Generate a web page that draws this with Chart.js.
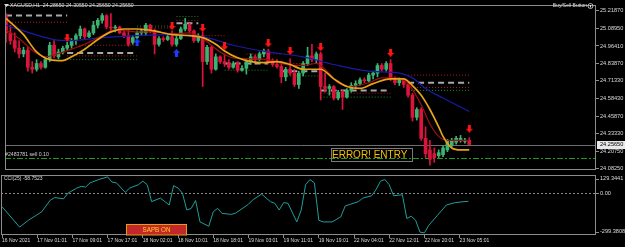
<!DOCTYPE html>
<html>
<head>
<meta charset="utf-8">
<title>XAGUSD,H1</title>
<script src="https://cdn.jsdelivr.net/npm/chart.js"></script>
<style>
    html, body { margin: 0; padding: 0; background: #000; }
    body { width: 625px; height: 247px; position: relative; overflow: hidden; }
    #priceChart { position: absolute; left: 0; top: 0; }
    #cciChart { position: absolute; left: 0; top: 174px; }
</style>
</head>
<body>
<canvas id="priceChart" width="625" height="175"></canvas>
<canvas id="cciChart" width="625" height="73"></canvas>

<script>
// --- data (H1 bars, index 0 = first bar on screen) ---
const opens = [25.182,25.058,25.003,24.948,24.907,24.934,24.811,24.797,24.838,24.811,
    24.866,24.969,24.886,24.921,24.948,24.969,25.003,25.038,25.086,25.031,
    25.058,25.113,25.148,25.182,25.100,25.093,25.100,25.058,25.038,24.990,
    25.024,25.058,25.058,25.113,25.072,24.976,25.017,25.010,25.031,24.976,
    25.017,25.086,25.120,25.072,25.003,25.038,24.852,24.955,24.797,24.886,
    24.852,24.838,24.811,24.838,24.790,24.804,24.852,24.886,24.866,24.907,
    24.928,24.852,24.831,24.817,24.742,24.797,24.769,24.687,24.769,24.838,
    24.893,24.866,24.907,24.673,24.659,24.673,24.590,24.632,24.597,24.645,
    24.680,24.694,24.721,24.714,24.755,24.769,24.824,24.797,24.838,24.728,
    24.700,24.721,24.687,24.611,24.452,24.508,24.301,24.218,24.191,24.177,
    24.184,24.218,24.253,24.273,24.287,24.280,24.2865];
const highs = [25.196,25.113,25.058,25.003,24.955,24.955,24.852,24.866,24.852,24.879,
    24.990,25.003,24.941,24.962,24.990,25.017,25.052,25.107,25.093,25.072,
    25.141,25.162,25.196,25.189,25.196,25.113,25.107,25.072,25.079,25.038,
    25.072,25.086,25.127,25.120,25.086,25.031,25.031,25.045,25.072,25.038,
    25.100,25.162,25.127,25.079,25.052,25.065,24.969,24.962,24.907,24.893,
    24.907,24.866,24.852,24.852,24.824,24.866,24.907,24.900,24.921,24.941,
    24.941,24.872,24.866,24.838,24.811,24.872,24.797,24.783,24.852,24.955,
    24.976,24.921,24.921,24.769,24.687,24.680,24.645,24.645,24.659,24.700,
    24.714,24.735,24.735,24.769,24.783,24.838,24.838,24.852,24.866,24.742,
    24.735,24.728,24.700,24.625,24.521,24.521,24.384,24.287,24.232,24.218,
    24.246,24.294,24.301,24.315,24.322,24.301,24.3055];
const lows = [24.990,24.976,24.921,24.879,24.886,24.783,24.769,24.783,24.797,24.804,
    24.852,24.879,24.872,24.907,24.934,24.948,24.976,25.017,25.017,25.024,
    25.045,25.093,25.127,25.086,25.072,25.065,25.052,25.024,24.962,24.976,
    25.017,25.045,25.038,25.058,24.907,24.962,24.996,25.003,24.962,24.962,
    25.010,25.072,25.058,24.990,24.990,24.673,24.831,24.769,24.790,24.838,
    24.817,24.797,24.804,24.776,24.783,24.762,24.831,24.852,24.859,24.886,
    24.838,24.817,24.804,24.700,24.714,24.755,24.673,24.659,24.749,24.824,
    24.852,24.838,24.576,24.632,24.611,24.576,24.576,24.508,24.590,24.632,
    24.659,24.680,24.700,24.707,24.728,24.742,24.783,24.783,24.714,24.687,
    24.680,24.666,24.597,24.425,24.432,24.287,24.163,24.108,24.129,24.163,
    24.170,24.205,24.239,24.260,24.273,24.267,24.2565];
const closes = [25.058,25.003,24.948,24.907,24.934,24.811,24.797,24.838,24.811,24.866,
    24.969,24.893,24.921,24.948,24.969,25.003,25.038,25.086,25.031,25.058,
    25.113,25.148,25.182,25.100,25.093,25.100,25.058,25.038,24.976,25.024,
    25.058,25.072,25.113,25.072,24.976,25.017,25.010,25.031,24.976,25.017,
    25.086,25.120,25.072,25.003,25.038,24.852,24.955,24.797,24.886,24.852,
    24.838,24.811,24.838,24.790,24.804,24.852,24.886,24.866,24.907,24.928,
    24.852,24.831,24.817,24.742,24.797,24.769,24.687,24.769,24.838,24.893,
    24.866,24.907,24.673,24.659,24.673,24.590,24.632,24.597,24.645,24.680,
    24.694,24.721,24.714,24.755,24.769,24.824,24.797,24.838,24.728,24.700,
    24.721,24.687,24.611,24.452,24.508,24.301,24.191,24.150,24.163,24.198,
    24.232,24.280,24.287,24.301,24.301,24.287,24.2565];

// moving averages (sampled bar, value)
const orangeBars = [0,4,7,10,13,15,18,21,24,27,30,34,38,42,45,48,50,53,56,59,62,65,68,72,75,78,81,84,88,91,93,95,96,97,99,100,102,104,106];
const orangeVals = [25.162,25.045,24.921,24.866,24.859,24.886,24.941,25.010,25.065,25.086,
    25.086,25.072,25.045,25.038,25.024,24.976,24.928,24.879,24.852,24.845,
    24.852,24.831,24.797,24.797,24.728,24.673,24.659,24.694,24.728,24.728,
    24.680,24.611,24.563,24.508,24.384,24.315,24.232,24.218,24.218];
const redMaBars = [0,3,6,9,11,15,18,22,25,30,34,38,42,45,49,52,56,60,64,68,71,73,76,79,83,86,89,92,95,97,99,101,106];
const redMaVals = [25.079,25.017,24.934,24.886,24.900,24.941,24.976,25.038,25.079,25.065,
    25.065,25.052,25.058,25.017,24.921,24.879,24.872,24.866,24.831,24.824,
    24.838,24.797,24.700,24.673,24.700,24.735,24.735,24.694,24.542,24.404,
    24.315,24.287,24.287];
const blueBars = [0,4,11,15,22,30,38,45,52,60,68,75,83,90,93,96,100,106];
const blueVals = [25.113,25.072,25.010,25.003,25.024,25.038,25.045,25.031,24.969,24.921,
    24.886,24.831,24.783,24.769,24.735,24.659,24.590,24.494];

// signal arrows
const sellArrowBars = [14,38,45,50,60,65,72,88,106];
const sellArrowPrices = [25.024,25.107,25.093,24.962,24.983,24.928,24.955,24.914,24.370];
const buyArrowBars = [30,39];
const buyArrowPrices = [24.990,24.914];

// level segments [fromBar, toBar, price]
const grayLevels = [[0,14,25.182],[14,30,24.914],[39,44,25.127],[50,60,24.838],[63,72,24.783],[72,88,24.645],[92,106,24.700]];
const redLevels = [[0,14,25.134],[14,30,24.969],[14,30,24.893],[30,38,25.093],[39,44,25.148],[45,50,25.038],
    [55,63,24.907],[63,72,24.838],[72,88,24.625],[92,106,24.755],[92,106,24.666]];
const greenLevels = [[14,30,24.866],[30,38,25.107],[39,44,25.175],[50,60,24.790],[63,72,24.749],[72,88,24.597],[92,106,24.645]];

const bidPrice = 24.2565;
const orderPrice = 24.157;
const orderLabel = '#2483781 sell 0.10';
const errorText = 'ERROR! ENTRY';

// CCI(25)
const cciBars = [0,4,6,9,11,12,14,15,17,18,19,20,22,24,25,26,28,29,31,32,
    33,34,36,38,39,40,41,42,43,44,45,47,48,49,50,52,53,56,57,59,
    61,62,63,64,65,67,68,69,70,71,72,73,75,77,78,81,82,84,85,86,
    87,88,89,91,92,93,94,95,96,97,99,101,103,105,106];
const cciValues = [-97,-243,-194,-134,-49,-32,-41,0,36,48,
    43,73,97,116,79,73,5,36,60,85,
    60,-61,-36,-85,53,36,0,-121,-109,-53,
    -206,-237,-134,-109,-145,-152,-145,-80,-48,-7,
    -61,-73,-121,-68,-73,-206,-121,60,97,73,
    -194,-206,-206,-170,-92,-61,-36,-19,24,85,
    97,60,-19,-12,-182,-165,-194,-279,-284,-230,
    -158,-85,-68,-61,-58.7523];

// axes
const priceTicks = [25.2187,25.0895,24.9641,24.8387,24.7133,24.5843,24.4587,24.3333,24.2075,24.0825];
const cciTickValues = [129.3441, 0, -299.3808];
const cciTickLabels = ['129.3441', '0.00', '-299.3808'];
const timeTickBars = [0,8,16,24,32,40,48,56,64,72,80,88,96,104];
const timeLabels = ['16 Nov 2021','17 Nov 01:01','17 Nov 09:01','17 Nov 17:01','18 Nov 02:01','18 Nov 10:01','18 Nov 18:01',
    '19 Nov 03:01','19 Nov 11:01','19 Nov 19:01','22 Nov 04:01','22 Nov 12:01','22 Nov 20:01','23 Nov 05:01'];

const X_MIN = -0.23, X_MAX = 135;
const PRICE_MIN = 24.0737, PRICE_MAX = 25.2581;
const CCI_MIN = -299.3808, CCI_MAX = 129.3441;

const UP = '#3cb371', DOWN = '#dc143c';
const FRAME = '#8c8c8c';
const TEXT = '#dcdcdc';

Chart.defaults.font.family = '"Liberation Sans", Arial, sans-serif';
Chart.defaults.color = TEXT;

function label(ctx, s, x, y, size, color, align) {
    ctx.font = size + 'px "Liberation Sans", Arial, sans-serif';
    ctx.fillStyle = color;
    ctx.textAlign = align || 'left';
    ctx.textBaseline = 'middle';
    ctx.fillText(s, x, y);
}

function arrowImage(color, down) {
    const c = document.createElement('canvas');
    c.width = 7; c.height = 8;
    const g = c.getContext('2d');
    g.fillStyle = color;
    g.beginPath();
    if (down) {
        g.moveTo(2, 0); g.lineTo(5, 0); g.lineTo(5, 4); g.lineTo(7, 4);
        g.lineTo(3.5, 8); g.lineTo(0, 4); g.lineTo(2, 4);
    } else {
        g.moveTo(2, 8); g.lineTo(5, 8); g.lineTo(5, 4); g.lineTo(7, 4);
        g.lineTo(3.5, 0); g.lineTo(0, 4); g.lineTo(2, 4);
    }
    g.closePath();
    g.fill();
    return c;
}

const pts = (xs, ys) => xs.map((x, k) => ({ x: x, y: ys[k] }));
const barIdx = opens.map((_, i) => i);
const candleColors = barIdx.map(i => closes[i] >= opens[i] ? UP : DOWN);

function levelSets(list, color, width, dash) {
    return list.map(l => ({
        type: 'line',
        data: [{ x: l[0], y: l[2] }, { x: l[1], y: l[2] }],
        borderColor: color, borderWidth: width, borderDash: dash,
        pointRadius: 0, order: 6
    }));
}

const framePlugin = {
    id: 'frame',
    beforeDraw(chart) {
        const { ctx } = chart;
        ctx.save();
        ctx.fillStyle = '#000';
        ctx.fillRect(0, 0, chart.width, chart.height);
        ctx.restore();
    },
    afterDraw(chart) {
        const { ctx, chartArea: a } = chart;
        ctx.save();
        ctx.strokeStyle = FRAME;
        ctx.lineWidth = 1;
        ctx.strokeRect(a.left + 0.5, a.top + 0.5, a.right - a.left - 1, a.bottom - a.top - 1);
        ctx.restore();
    }
};

const priceOverlay = {
    id: 'priceOverlay',
    beforeDatasetsDraw(chart) {
        const { ctx, chartArea: a, scales: { y } } = chart;
        ctx.save();
        ctx.lineWidth = 1;
        const yb = Math.round(y.getPixelForValue(bidPrice)) + 0.5;
        ctx.strokeStyle = '#6e6e6e';
        ctx.beginPath(); ctx.moveTo(a.left, yb); ctx.lineTo(a.right, yb); ctx.stroke();
        const yo = Math.round(y.getPixelForValue(orderPrice)) + 0.5;
        ctx.strokeStyle = '#1e9e1e';
        ctx.setLineDash([6, 2, 2, 2]);
        ctx.beginPath(); ctx.moveTo(a.left, yo); ctx.lineTo(a.right, yo); ctx.stroke();
        ctx.restore();
    },
    afterDraw(chart) {
        const { ctx, scales: { y } } = chart;
        const last = opens.length - 1;
        ctx.save();
        // header
        ctx.fillStyle = TEXT;
        ctx.beginPath(); ctx.moveTo(4, 4); ctx.lineTo(9, 4); ctx.lineTo(6.5, 7); ctx.closePath(); ctx.fill();
        const head = 'XAGUSD,H1  ' + [opens[last], highs[last], lows[last], closes[last]].map(v => v.toFixed(5)).join(' ');
        label(ctx, head, 10, 6, 5.2, TEXT, 'left');
        label(ctx, 'Buy/Sell Button', 587, 6, 5, TEXT, 'right');
        ctx.strokeStyle = TEXT; ctx.lineWidth = 0.8;
        ctx.beginPath(); ctx.arc(590.5, 6, 2.5, 0, Math.PI * 2); ctx.stroke();
        ctx.fillRect(590, 5, 1, 2.5);
        // order label
        const yo = y.getPixelForValue(orderPrice);
        label(ctx, orderLabel, 5, yo - 3.5, 5.2, '#cfcfcf', 'left');
        // error box
        ctx.strokeStyle = '#7a7a7a'; ctx.lineWidth = 1;
        ctx.strokeRect(331.5, 148.5, 81, 13);
        label(ctx, errorText, 332, 155.5, 10, '#f2c200', 'left');
        // bid price tag on the axis
        const yb = y.getPixelForValue(bidPrice);
        ctx.fillStyle = '#e8e8e8';
        ctx.fillRect(597, Math.round(yb) - 4, 28, 8);
        label(ctx, bidPrice.toFixed(5), 600, yb, 5.6, '#000', 'left');
        ctx.restore();
    }
};

const cciOverlay = {
    id: 'cciOverlay',
    beforeDatasetsDraw(chart) {
        const { ctx, chartArea: a, scales: { y } } = chart;
        ctx.save();
        const y0 = Math.round(y.getPixelForValue(0)) + 0.5;
        ctx.strokeStyle = '#8a8a8a'; ctx.lineWidth = 1;
        ctx.setLineDash([2, 2]);
        ctx.beginPath(); ctx.moveTo(a.left, y0); ctx.lineTo(a.right, y0); ctx.stroke();
        ctx.restore();
    },
    afterDraw(chart) {
        const { ctx, chartArea: a, scales: { y } } = chart;
        ctx.save();
        label(ctx, 'CCI(25) ' + cciValues[cciValues.length - 1].toFixed(4), 4, a.top + 4, 5, TEXT, 'left');
        cciTickValues.forEach((v, k) => {
            const py = Math.min(Math.max(y.getPixelForValue(v), a.top + 3.5), a.bottom - 3.5);
            ctx.fillStyle = FRAME;
            ctx.fillRect(a.right, Math.round(py), 3, 1);
            label(ctx, cciTickLabels[k], a.right + 4, py, 5.6, TEXT, 'left');
        });
        // SAPB button
        ctx.fillStyle = '#c4262a';
        ctx.fillRect(126, 50, 61, 11);
        ctx.strokeStyle = '#d8a21c'; ctx.lineWidth = 1;
        ctx.strokeRect(126.5, 50.5, 60, 10.5);
        label(ctx, 'SAPB ON', 156.5, 56, 6.3, '#ffd21a', 'center');
        ctx.restore();
    }
};

const sellArrow = arrowImage('#ff1414', true);
const buyArrow = arrowImage('#1e3cff', false);

new Chart(document.getElementById('priceChart'), {
    type: 'bar',
    data: {
        datasets: [
            { type: 'line', data: pts(sellArrowBars, sellArrowPrices), showLine: false,
              pointStyle: sellArrow, pointRadius: 4, order: 1 },
            { type: 'line', data: pts(buyArrowBars, buyArrowPrices), showLine: false,
              pointStyle: buyArrow, pointRadius: 4, order: 1 },
            { type: 'line', data: pts(orangeBars, orangeVals), borderColor: '#e8a317', borderWidth: 1.7,
              cubicInterpolationMode: 'monotone', pointRadius: 0, order: 2 },
            { type: 'line', data: pts(redMaBars, redMaVals), borderColor: '#a01010', borderWidth: 1.2,
              cubicInterpolationMode: 'monotone', pointRadius: 0, order: 2 },
            { type: 'line', data: pts(blueBars, blueVals), borderColor: '#1a1aa8', borderWidth: 1.2,
              cubicInterpolationMode: 'monotone', pointRadius: 0, order: 2 },
            { data: barIdx.map(i => ({ x: i, y: [opens[i], closes[i]] })), backgroundColor: candleColors,
              barThickness: 3, minBarLength: 1, grouped: false, order: 3 },
            { data: barIdx.map(i => ({ x: i, y: [lows[i], highs[i]] })), backgroundColor: candleColors,
              barThickness: 1, grouped: false, order: 4 },
            ...levelSets(grayLevels, '#a8a8a8', 2, [6, 4]),
            ...levelSets(redLevels, '#b41a1a', 1, [1, 2]),
            ...levelSets(greenLevels, '#1a8c1a', 1, [1, 2])
        ]
    },
    options: {
        responsive: false,
        animation: false,
        events: [],
        layout: { padding: { left: 1, top: 1, right: 0, bottom: 2 } },
        plugins: { legend: { display: false }, tooltip: { enabled: false } },
        scales: {
            x: { type: 'linear', display: false, min: X_MIN, max: X_MAX, offset: false },
            y: {
                type: 'linear', position: 'right', min: PRICE_MIN, max: PRICE_MAX,
                afterBuildTicks: s => { s.ticks = priceTicks.map(v => ({ value: v })); },
                afterFit: s => { s.width = 29; },
                ticks: { callback: v => v.toFixed(5), font: { size: 5.6 }, color: TEXT, padding: 1, autoSkip: false },
                grid: { drawOnChartArea: false, tickLength: 3, color: FRAME },
                border: { display: false }
            }
        }
    },
    plugins: [framePlugin, priceOverlay]
});

new Chart(document.getElementById('cciChart'), {
    type: 'line',
    data: {
        datasets: [{
            data: pts(cciBars, cciValues), borderColor: '#1f9e9a', borderWidth: 1,
            pointRadius: 0, tension: 0
        }]
    },
    options: {
        responsive: false,
        animation: false,
        events: [],
        layout: { padding: { left: 1, top: 1, right: 0, bottom: 0 } },
        plugins: { legend: { display: false }, tooltip: { enabled: false } },
        scales: {
            x: {
                type: 'linear', min: X_MIN, max: X_MAX, offset: false,
                afterBuildTicks: s => { s.ticks = timeTickBars.map(v => ({ value: v })); },
                afterFit: s => { s.height = 12; },
                ticks: { callback: (v, i) => timeLabels[i], align: 'start', autoSkip: false,
                         maxRotation: 0, minRotation: 0, padding: 0, font: { size: 5 }, color: TEXT },
                grid: { drawOnChartArea: false, tickLength: 3, color: FRAME },
                border: { display: false }
            },
            y: {
                type: 'linear', position: 'right', min: CCI_MIN, max: CCI_MAX,
                afterFit: s => { s.width = 29; },
                ticks: { display: false },
                grid: { display: false },
                border: { display: false }
            }
        }
    },
    plugins: [framePlugin, cciOverlay]
});
</script>
</body>
</html>
